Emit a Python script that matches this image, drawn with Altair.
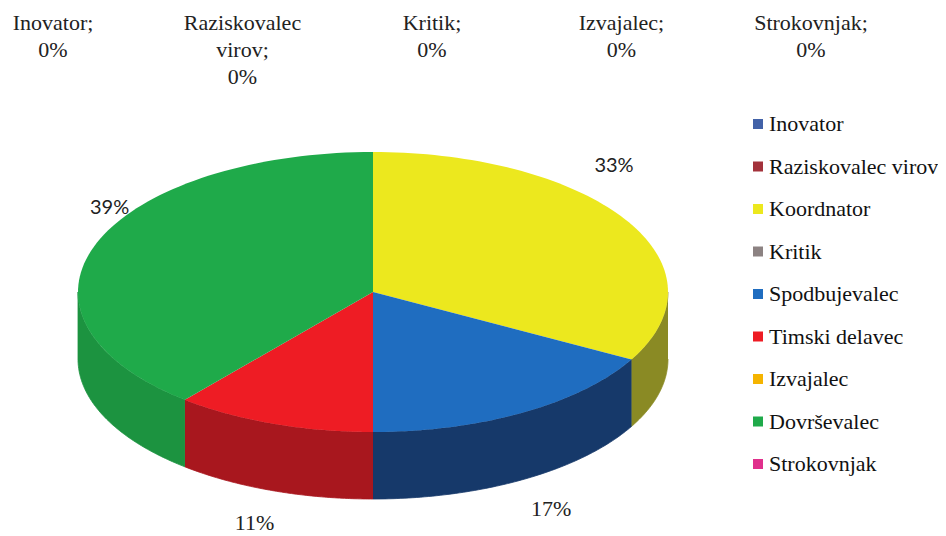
import numpy as np
import pandas as pd
import altair as alt

# ---- data ----
categories = ["Inovator", "Raziskovalec virov", "Koordnator", "Kritik", "Spodbujevalec",
              "Timski delavec", "Izvajalec", "Dovrševalec", "Strokovnjak"]
values = [0, 0, 33, 0, 17, 11, 0, 39, 0]
top_colors = ["#4262A8", "#A3323B", "#ECE81E", "#8C8282", "#1F6DC0",
              "#EE1C24", "#F5B400", "#1FAA4A", "#E0308C"]
side_colors = ["#2A3F70", "#6E2027", "#8A8A24", "#5E5757", "#16396A",
               "#A8171E", "#A67A00", "#1C9340", "#992060"]

# ---- layout (unit = horizontal radius of the pie) ----
PX = 295.0                 # pixels per unit
RY = 140 / PX              # vertical radius of top face
DEPTH = 67 / PX            # thickness of the pie
LXT, LXB = 280 / PX, 350 / PX       # horizontal label radii (upper / lower half)
LYT, LYB = 248 / PX, 174 / PX       # vertical label radii (upper / lower half)
W, H = 930, 528
CX, CY = 365, 284          # pie centre in plot pixels
XDOM = [-CX / PX, (W - CX) / PX]
YDOM = [-(H - CY) / PX, CY / PX]
N = 80

total = float(sum(values))
top_rows, side_rows, lab_rows = [], [], []
cum = 0.0
for cat, v, sc in zip(categories, values, side_colors):
    if v <= 0:
        continue
    a0 = 2 * np.pi * cum / total
    a1 = 2 * np.pi * (cum + v) / total
    cum += v
    ts = np.linspace(a0, a1, N)
    pts = [(0.0, 0.0)] + [(np.sin(t), RY * np.cos(t)) for t in ts]
    for i, (x, y) in enumerate(pts):
        top_rows.append(dict(pid=cat, idx=i, x=x, y=y, category=cat))
    s0, s1 = max(a0, np.pi / 2), min(a1, 3 * np.pi / 2)
    if s1 > s0:
        ts = np.linspace(s0, s1, N)
        upper = [(np.sin(t), RY * np.cos(t)) for t in ts]
        lower = [(np.sin(t), RY * np.cos(t) - DEPTH) for t in ts[::-1]]
        for i, (x, y) in enumerate(upper + lower):
            side_rows.append(dict(pid=cat, idx=i, x=x, y=y, fillc=sc))
    m = (a0 + a1) / 2
    c = np.cos(m)
    if c > 0:
        lx, ly = np.sin(m) * LXT, c * LYT
    else:
        lx, ly = np.sin(m) * LXB, c * LYB - DEPTH
    lab_rows.append(dict(x=lx, y=ly, text=f"{v}%", upper=bool(c > 0)))

top_df = pd.DataFrame(top_rows)
side_df = pd.DataFrame(side_rows)
lab_df = pd.DataFrame(lab_rows)
zero_df = pd.DataFrame([dict(category=c, text=f"{c.replace(' ', chr(10))};\n{v}%")
                        for c, v in zip(categories, values) if v == 0])
zero_cats = list(zero_df["category"])

xs = alt.Scale(domain=XDOM, nice=False, zero=False)
ys = alt.Scale(domain=YDOM, nice=False, zero=False)
X = alt.X("x:Q", scale=xs, axis=None)
Y = alt.Y("y:Q", scale=ys, axis=None)

sides = alt.Chart(side_df).mark_line(filled=True, strokeWidth=0.8).encode(
    x=X, y=Y, detail="pid:N", order=alt.Order("idx:Q"),
    fill=alt.Fill("fillc:N", scale=None), stroke=alt.Stroke("fillc:N", scale=None))

tops = alt.Chart(top_df).mark_line(filled=True).encode(
    x=X, y=Y, detail="pid:N", order=alt.Order("idx:Q"),
    color=alt.Color("category:N",
                    scale=alt.Scale(domain=categories, range=top_colors),
                    legend=alt.Legend(title=None, orient="none", direction="vertical",
                                      legendX=739, legendY=105, padding=0,
                                      symbolType="square", symbolSize=100,
                                      symbolStrokeWidth=0, symbolOpacity=1,
                                      labelFont="Liberation Serif", labelFontSize=22,
                                      labelColor="#111111", labelOffset=0,
                                      rowPadding=20.5, labelLimit=300)))

lab_up = alt.Chart(lab_df).transform_filter("datum.upper").mark_text(
    font="Lato", fontSize=20, color="#222222", baseline="middle").encode(
    x=X, y=Y, text="text:N")
lab_dn = alt.Chart(lab_df).transform_filter("!datum.upper").mark_text(
    font="Liberation Serif", fontSize=22, color="#222222", baseline="middle").encode(
    x=X, y=Y, text="text:N")

zero_labels = alt.Chart(zero_df).mark_text(
    font="Liberation Serif", fontSize=22, color="#222222", baseline="top",
    lineBreak="\n", lineHeight=27, align="center").encode(
    x=alt.X("category:N",
            scale=alt.Scale(type="point", domain=zero_cats, range=[45, 803], padding=0),
            axis=None),
    y=alt.value(5), text="text:N")

chart = alt.layer(sides, tops, lab_up, lab_dn, zero_labels).resolve_scale(
    x="independent", y="independent"
).properties(width=W, height=H, padding=0, autosize="none", background="white"
).configure_view(strokeWidth=0
).configure_legend(labelFont="Liberation Serif", labelFontSize=22, labelColor="#111111")

chart.save("out.html", embed_options={"renderer": "svg", "actions": False})
